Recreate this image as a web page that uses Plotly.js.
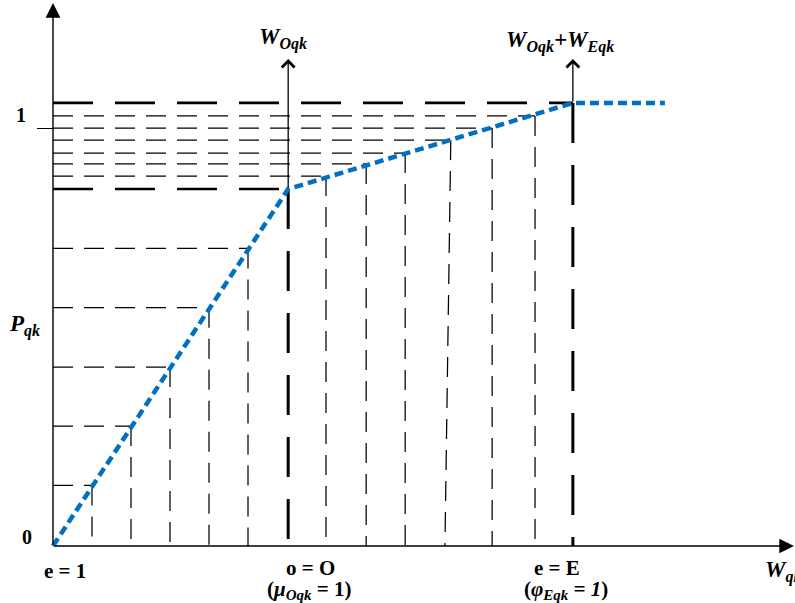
<!DOCTYPE html>
<html><head><meta charset="utf-8">
<script src="https://cdn.plot.ly/plotly-3.0.1.min.js"></script>
<style>html,body{margin:0;padding:0;background:#fff;}#chart{width:795px;height:603px;}</style>
</head><body><div id="chart"></div>
<script>
// ---- data (schematic units) ----
const curveX = [0, 6.03, 13.33, 15.69];
const curveY = [0, 0.854, 1.06, 1.06];
const leftStepX = [1, 2, 3, 4, 5];
const leftStepY = [0.145, 0.287, 0.428, 0.570, 0.712];
const rightStepX = [7, 8.03, 9.03, 10.2, 11.26, 12.36];
const rightStepBaseX = [7, 8.03, 9.03, 10.05, 11.26, 12.36];
const rightStepY = [0.885, 0.914, 0.940, 0.971, 1.0, 1.029];
const arrowTopY = 1.165;
const yTickVals = [1];

const oX = curveX[1], oY = curveY[1], eX = curveX[2], eY = curveY[2];

function hSegs(xs, ys){const x=[],y=[];xs.forEach((v,i)=>{x.push(0,v,null);y.push(ys[i],ys[i],null);});return {x,y};}
function vSegs(xs, ys, bx){const x=[],y=[];xs.forEach((v,i)=>{x.push(v,(bx||xs)[i],null);y.push(ys[i],0,null);});return {x,y};}

const thin = {color:'#000', width:1.25, dash:'20px,11px'};
const thick = {color:'#000', width:2.6, dash:'40px,22px'};
const traces = [];
function add(seg, line){traces.push({type:'scatter',mode:'lines',x:seg.x,y:seg.y,line:line,hoverinfo:'skip',connectgaps:false});}
add(hSegs(leftStepX, leftStepY), thin);
add(vSegs(leftStepX, leftStepY), thin);
add(hSegs(rightStepX, rightStepY), thin);
add(vSegs(rightStepX, rightStepY, rightStepBaseX), thin);
add(hSegs([oX, eX], [oY, eY]), thick);
add(vSegs([oX, eX], [oY, eY]), Object.assign({}, thick, {width:3}));
traces.push({type:'scatter',mode:'lines',x:curveX,y:curveY,line:{color:'#0070C0',width:4.5,dash:'9px,5px'},hoverinfo:'skip'});

const PX = p => (p-35)/760, PY = p => (551-p)/551;
const F = 'Liberation Serif, Times New Roman, serif';
const sub = (t, s) => '<sub><span style="font-size:' + s + 'px">' + t + '</span></sub>';
function lab(text, x, y, size, xanchor){return {xref:'paper',yref:'paper',x:PX(x),y:PY(y),text:text,showarrow:false,xanchor:xanchor||'center',yanchor:'middle',font:{family:F,size:size||21,color:'#000'}};}
function arr(x0,y0,x1,y1,head,size,w){return {xref:'x',yref:'y',axref:'x',ayref:'y',x:x1,y:y1,ax:x0,ay:y0,text:'',showarrow:true,arrowhead:head,arrowsize:size,arrowwidth:w,arrowcolor:'#000',standoff:0,startstandoff:0};}

const annotations = [
  arr(0,0,0,(546-3)/418,2,2.1,1.4),
  arr(0,0,741/39,0,2,2.1,1.4),
  arr(oX,oY,oX,arrowTopY,4,1.9,1.3),
  arr(eX,eY,eX,arrowTopY,4,1.9,1.3),
  lab('<b><i>W' + sub('Oqk',16) + '</i></b>', 283, 38, 23),
  lab('<b><i>W' + sub('Oqk',16) + '+W' + sub('Eqk',16) + '</i></b>', 560, 42, 23),
  lab('<b><i>P' + sub('qk',16) + '</i></b>', 24, 325, 23),
  lab('<b>1</b>', 21, 115, 20),
  lab('<b>0</b>', 27, 537, 20),
  lab('<b>e = 1</b>', 65, 571, 21),
  lab('<b>o = O</b>', 310, 568, 21),
  lab('<b>(<i>μ' + sub('Oqk',15) + '</i> = 1)</b>', 309, 590, 21),
  lab('<b>e = E</b>', 557, 568, 21),
  lab('<b>(<i>φ' + sub('Eqk',15) + ' = 1</i>)</b>', 566, 590, 21),
  lab('<b><i>W' + sub('qk',16) + '</i></b>', 763, 571, 23, 'left')
];

const layout = {
  width:795, height:603, margin:{l:35,r:0,t:0,b:52,pad:0},
  paper_bgcolor:'#fff', plot_bgcolor:'#fff', showlegend:false,
  xaxis:{range:[-18/39, 742/39], showgrid:false, zeroline:false, showline:false, showticklabels:false, ticks:'', fixedrange:true},
  yaxis:{range:[-5/418, 546/418], anchor:'free', position:18/760, showgrid:false, zeroline:false, showline:false,
         tickvals:yTickVals, ticks:'outside', ticklen:16, tickwidth:1, tickcolor:'#000', showticklabels:false, fixedrange:true},
  annotations:annotations
};
Plotly.newPlot('chart', traces, layout, {staticPlot:true, displayModeBar:false});
</script></body></html>
